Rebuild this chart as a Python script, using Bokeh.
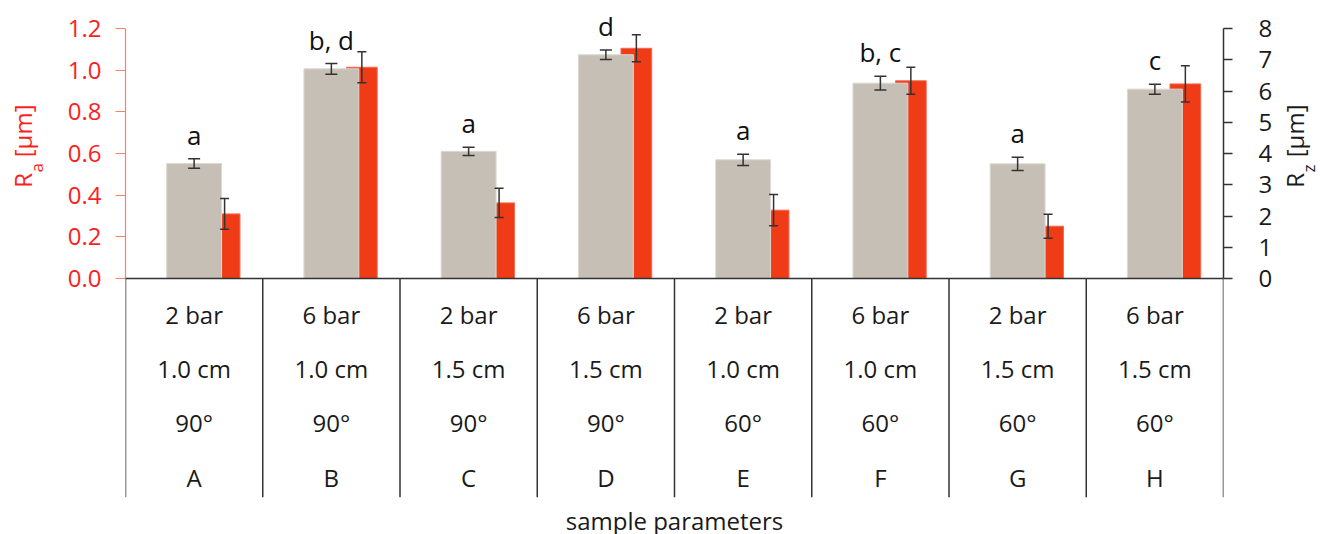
import math
from bokeh.plotting import figure
from bokeh.layouts import row
from bokeh.models import (Range1d, LinearAxis, FixedTicker, PrintfTickFormatter,
                          ColumnDataSource, Whisker, TeeHead, Arrow, Title)
from bokeh.core.properties import value
from bokeh.embed import file_html
from bokeh.resources import INLINE

# ---------------- data ----------------
samples = ["A", "B", "C", "D", "E", "F", "G", "H"]
pressure = ["2 bar", "6 bar", "2 bar", "6 bar", "2 bar", "6 bar", "2 bar", "6 bar"]
distance = ["1.0 cm", "1.0 cm", "1.5 cm", "1.5 cm", "1.0 cm", "1.0 cm", "1.5 cm", "1.5 cm"]
angle = ["90°", "90°", "90°", "90°", "60°", "60°", "60°", "60°"]
rz = [3.68, 6.71, 4.07, 7.16, 3.80, 6.25, 3.67, 6.06]
rz_err = [0.15, 0.17, 0.13, 0.15, 0.18, 0.22, 0.21, 0.16]
ra = [0.31, 1.014, 0.363, 1.105, 0.328, 0.949, 0.251, 0.934]
ra_err = [0.074, 0.074, 0.070, 0.065, 0.075, 0.065, 0.058, 0.087]
letters = ["a", "b, d", "a", "d", "a", "b, c", "a", "c"]
ra_ticks = [0.0, 0.2, 0.4, 0.6, 0.8, 1.0, 1.2]
rz_ticks = [0, 1, 2, 3, 4, 5, 6, 7, 8]

# ---------------- layout constants ----------------
FONT = "Open Sans"
GRAY = "#C5BFB6"
RED = "#EF3B16"
DARK = "#333333"
TXT = "#1a1a1a"
LABEL_RED = "#FF1E1E"
H = 532                       # figure height
FW = 1098                     # frame width
TOP = 10                      # frame top (px)
AXIS_TOP = 28                 # px position of the axes' top tick
ZERO = 278                    # px position of the zero line
BOTTOM = 497                  # px position of the table bottom
FH = BOTTOM - TOP
RA_MAX, RZ_MAX = 1.2, 8.0
PX_Y = (ZERO - AXIS_TOP) / RA_MAX   # px per Ra unit
PX_RZ = (ZERO - AXIS_TOP) / RZ_MAX  # px per Rz unit
Y0 = -(BOTTOM - ZERO) / PX_Y        # bottom of table area in Ra units
Y1 = (ZERO - TOP) / PX_Y            # top of frame in Ra units
GRAY_W, RED_W, RED_OFF = 0.40, 0.224, 0.222
LW, RW = 50, 48               # side title panels
ML, MR = 75, 45               # main figure borders

n = len(samples)
xc = [i + 0.5 for i in range(n)]
xr = [v + RED_OFF for v in xc]

p = figure(frame_width=FW, frame_height=FH,
           x_range=Range1d(0, n), y_range=Range1d(Y0, Y1),
           x_axis_location=None, y_axis_location="left",
           output_backend="svg", toolbar_location=None,
           min_border_left=ML, min_border_right=MR,
           min_border_top=TOP, min_border_bottom=H - TOP - FH)
k = RZ_MAX / RA_MAX
p.extra_y_ranges = {"rz": Range1d(Y0 * k, Y1 * k)}
p.grid.visible = False
p.outline_line_color = None

# left axis (Ra)
ya = p.yaxis[0]
ya.ticker = FixedTicker(ticks=ra_ticks)
ya.formatter = PrintfTickFormatter(format="%.1f")
ya.bounds = (0, RA_MAX)
ya.axis_line_color = "#F4836C"
ya.axis_line_width = 1.2
ya.major_tick_line_color = "#F4836C"
ya.major_tick_line_width = 1.2
ya.major_tick_out = 10
ya.major_tick_in = 0
ya.minor_tick_line_color = None
ya.major_label_text_color = LABEL_RED
ya.major_label_text_font = FONT
ya.major_label_text_font_size = "24px"
ya.major_label_standoff = 14

# right axis (Rz)
rax = LinearAxis(y_range_name="rz", ticker=FixedTicker(ticks=rz_ticks),
                 bounds=(0, RZ_MAX))
rax.axis_line_color = DARK
rax.axis_line_width = 1.5
rax.major_tick_line_color = DARK
rax.major_tick_line_width = 1.5
rax.major_tick_out = 9
rax.major_tick_in = 0
rax.minor_tick_line_color = None
rax.major_label_text_color = TXT
rax.major_label_text_font = FONT
rax.major_label_text_font_size = "24px"
rax.major_label_standoff = 26
p.add_layout(rax, "right")

# bars: Ra (red, left axis) behind, Rz (gray, right axis) in front
src = ColumnDataSource(dict(xc=xc, xr=xr, rz=rz, ra=ra,
                            rz_up=[a + b for a, b in zip(rz, rz_err)],
                            rz_lo=[a - b for a, b in zip(rz, rz_err)],
                            ra_up=[a + b for a, b in zip(ra, ra_err)],
                            ra_lo=[a - b for a, b in zip(ra, ra_err)],
                            lab_y=[a + b + 24 / PX_RZ for a, b in zip(rz, rz_err)],
                            letters=letters))
p.vbar(x="xr", top="ra", bottom=0, width=RED_W, source=src,
       fill_color=RED, line_color="#F46A4E", line_width=1)
p.vbar(x="xc", top="rz", bottom=0, width=GRAY_W, source=src,
       fill_color=GRAY, line_color="#DDD9D2", line_width=1, y_range_name="rz")

# error bars (drawn above the bars)
p.add_layout(Whisker(source=src, base="xr", upper="ra_up", lower="ra_lo",
                     dimension="height", line_color=DARK, line_width=1.5,
                     level="overlay",
                     upper_head=TeeHead(size=9, line_color=DARK, line_width=1.5),
                     lower_head=TeeHead(size=9, line_color=DARK, line_width=1.5)))
p.add_layout(Whisker(source=src, base="xc", upper="rz_up", lower="rz_lo",
                     dimension="height", line_color=DARK, line_width=1.5,
                     y_range_name="rz", level="overlay",
                     upper_head=TeeHead(size=12, line_color=DARK, line_width=1.5),
                     lower_head=TeeHead(size=12, line_color=DARK, line_width=1.5)))

# significance letters
p.text(x="xc", y="lab_y", text="letters", source=src, y_range_name="rz",
       text_align="center", text_baseline="middle",
       text_font=value(FONT), text_font_size="26px", text_color="#111111")

# zero line and table grid
bounds = list(range(n + 1))
grid_src = ColumnDataSource(dict(x0=bounds, y0=[0] * len(bounds),
                                 x1=bounds, y1=[Y0] * len(bounds)))
p.add_layout(Arrow(source=grid_src, x_start="x0", y_start="y0", x_end="x1",
                   y_end="y1", end=None, line_color=DARK, line_width=1.5))
p.add_layout(Arrow(x_start=0, y_start=0, x_end=n, y_end=0, end=None,
                   line_color=DARK, line_width=1.5))

# table text
row_px = [36, 90, 144, 198.5]   # px below the zero line (text centres)
rows = [pressure, distance, angle, samples]
tx, ty, tt = [], [], []
for r, vals in enumerate(rows):
    for i, v in enumerate(vals):
        tx.append(xc[i])
        ty.append(-row_px[r] / PX_Y)
        tt.append(v)
p.text(x=tx, y=ty, text=tt, text_align="center", text_baseline="middle",
       text_font=value(FONT), text_font_size="24px", text_color=TXT)

# x title
p.add_layout(Title(text="sample parameters", align="center",
                   text_font=FONT, text_font_size="24px", text_color=TXT,
                   text_font_style="normal", standoff=8), "below")


# rotated axis titles with subscripts, in narrow side panels
def side_panel(width, x_cap, color, sub):
    f = figure(width=width, height=H, x_range=Range1d(0, width),
               y_range=Range1d(0, H), x_axis_location=None,
               y_axis_location=None, output_backend="svg",
               toolbar_location=None, min_border=0)
    f.grid.visible = False
    f.outline_line_color = None
    rot = math.pi / 2
    f.text(x=[x_cap], y=[H - 197], text=["R"], angle=rot, text_align="left",
           text_baseline="middle", text_font=value(FONT),
           text_font_size="24px", text_color=color)
    f.text(x=[x_cap + 14], y=[H - 180], text=[sub], angle=rot,
           text_align="left", text_baseline="middle", text_font=value(FONT),
           text_font_size="17px", text_color=color)
    f.text(x=[x_cap], y=[H - 163], text=["[µm]"], angle=rot,
           text_align="left", text_baseline="middle", text_font=value(FONT),
           text_font_size="24px", text_color=color)
    return f


left = side_panel(LW, 22, LABEL_RED, "a")
right = side_panel(RW, 1287 - (LW + ML + FW + MR), TXT, "z")

layout = row(left, p, right, spacing=0)
open("out.html", "w").write(file_html(layout, INLINE))
